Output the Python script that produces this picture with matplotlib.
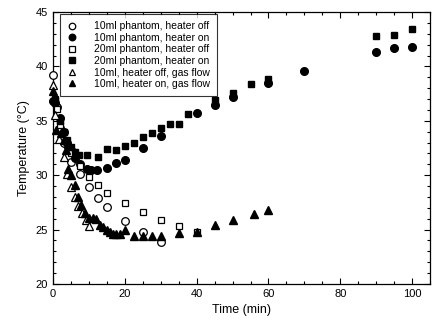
import matplotlib
matplotlib.use("Agg")
import matplotlib.pyplot as plt
from matplotlib.ticker import MultipleLocator

plt.rcParams['font.family'] = ['Liberation Sans', 'DejaVu Sans']

# 10ml phantom, heater off
t_10_off = [0, 1, 2, 3, 5, 7.4, 10, 12.4, 15, 20, 25, 30]
T_10_off = [39.2, 36.3, 34.3, 33.0, 31.2, 30.1, 28.9, 27.9, 27.1, 25.8, 24.8, 23.9]

# 10ml phantom, heater on
t_10_on = [0, 0.5, 1.9, 3, 4, 5, 6, 7.5, 9.4, 10.5, 12.2, 15, 17.5, 20, 25, 30, 40, 45, 50, 60, 70, 90, 95, 100]
T_10_on = [36.8, 36.6, 35.3, 34.0, 33.0, 32.3, 31.6, 31.0, 30.6, 30.5, 30.5, 30.7, 31.1, 31.4, 32.5, 33.6, 35.7, 36.5, 37.2, 38.5, 39.6, 41.3, 41.7, 41.8]

# 20ml phantom, heater off
t_20_off = [0.5, 1.1, 2.0, 5.1, 7.4, 10, 12.5, 15, 20, 25, 30, 35, 40]
T_20_off = [37.0, 36.1, 34.6, 32.0, 30.8, 29.8, 29.1, 28.4, 27.4, 26.6, 25.9, 25.3, 24.8]

# 20ml phantom, heater on
t_20_on = [0.5, 2, 3, 4, 5, 6, 7.3, 9.6, 12.5, 15, 17.5, 20, 22.5, 25, 27.6, 30, 32.6, 35.1, 37.6, 45, 50, 55, 60, 90, 95, 100]
T_20_on = [36.9, 35.0, 34.0, 33.2, 32.6, 32.1, 31.9, 31.9, 31.7, 32.4, 32.3, 32.7, 33.0, 33.5, 33.9, 34.3, 34.7, 34.7, 35.6, 36.9, 37.6, 38.4, 38.8, 42.8, 42.9, 43.4]

# 10ml, heater off, gas flow
t_gas_off = [0, 0.5, 1.8, 3.0, 4.0, 4.9, 6.0, 7.0, 8.0, 9.1, 10.1]
T_gas_off = [38.3, 35.5, 33.3, 31.7, 30.1, 28.9, 28.0, 27.2, 26.5, 25.9, 25.3]

# 10ml, heater on, gas flow
t_gas_on = [0, 0.8, 2.3, 3.2, 4.2, 3.6, 4.2, 5.1, 6.0, 7.0, 7.9, 8.8, 10, 11.1, 12.1, 13, 13.9, 14.9, 15.8, 16.7, 17.6, 18.6, 20, 22.6, 25.1, 27.7, 30, 35.1, 40, 45, 50, 56, 60]
T_gas_on = [37.7, 34.2, 33.9, 33.2, 32.9, 32.3, 30.6, 30.0, 29.1, 28.0, 27.3, 26.5, 26.1, 26.1, 26.0, 25.4, 25.2, 25.0, 24.8, 24.6, 24.6, 24.6, 25.0, 24.4, 24.4, 24.4, 24.4, 24.7, 24.8, 25.4, 25.9, 26.4, 26.8]

fig = plt.figure(figsize=(4.38, 3.26), dpi=100)
ax = fig.add_axes([0.121, 0.129, 0.861, 0.834])

ms = 5.5
kw = dict(linestyle='none', clip_on=False, zorder=3)
ax.plot(t_10_off, T_10_off, marker='o', mfc='white', mec='black', ms=ms, mew=0.9, label='10ml phantom, heater off', **kw)
ax.plot(t_10_on, T_10_on, marker='o', color='black', ms=ms, label='10ml phantom, heater on', **kw)
ax.plot(t_20_off, T_20_off, marker='s', mfc='white', mec='black', ms=ms - 0.5, mew=0.9, label='20ml phantom, heater off', **kw)
ax.plot(t_20_on, T_20_on, marker='s', color='black', ms=ms - 0.5, label='20ml phantom, heater on', **kw)
ax.plot(t_gas_off, T_gas_off, marker='^', mfc='white', mec='black', ms=ms, mew=0.9, label='10ml, heater off, gas flow', **kw)
ax.plot(t_gas_on, T_gas_on, marker='^', color='black', ms=ms, label='10ml, heater on, gas flow', **kw)

ax.set_xlim(0, 105)
ax.set_ylim(20, 45)
ax.xaxis.set_major_locator(MultipleLocator(20))
ax.xaxis.set_minor_locator(MultipleLocator(5))
ax.yaxis.set_major_locator(MultipleLocator(5))
ax.yaxis.set_minor_locator(MultipleLocator(1))
ax.tick_params(which='both', direction='in', top=True, right=True, labelsize=8, width=0.8)
ax.tick_params(which='major', length=4)
ax.tick_params(which='minor', length=2)
for s in ax.spines.values():
    s.set_linewidth(0.9)

ax.set_xlabel('Time (min)', fontsize=9)
ax.set_ylabel('Temperature (\u00b0C)', fontsize=9)

leg = ax.legend(loc='upper left', bbox_to_anchor=(0.018, 0.993), fontsize=7.5, frameon=True,
                fancybox=False, edgecolor='black', handlelength=1.0, handletextpad=1.6,
                labelspacing=0.15, borderpad=0.7, borderaxespad=0.0, markerscale=0.85)
leg.get_frame().set_linewidth(0.8)
leg.set_zorder(5)

fig.savefig('out.png', dpi=100)
